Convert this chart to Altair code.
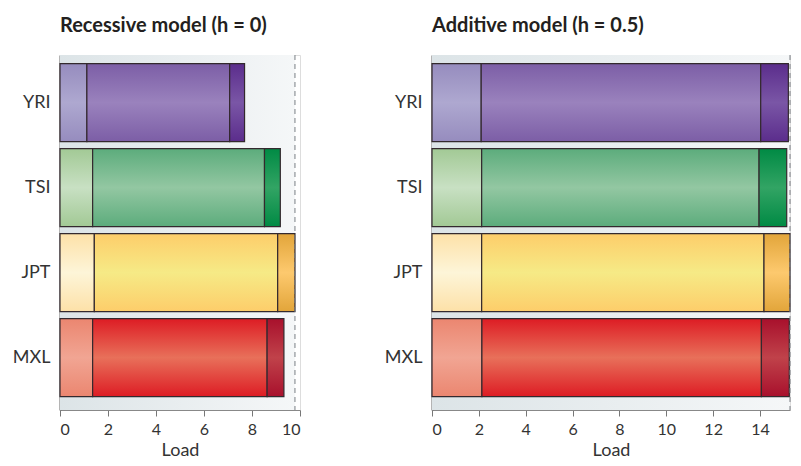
import altair as alt
import pandas as pd

# ---- data ----
populations = ["YRI", "TSI", "JPT", "MXL"]
segments = ["low", "mid", "high"]

# cumulative segment ends (Load), per population, in order low, mid, high
recessive_ends = {
    "YRI": [1.12, 7.07, 7.69],
    "TSI": [1.36, 8.52, 9.18],
    "JPT": [1.43, 9.07, 9.79],
    "MXL": [1.36, 8.63, 9.33],
}
additive_ends = {
    "YRI": [2.10, 14.03, 15.21],
    "TSI": [2.12, 13.96, 15.14],
    "JPT": [2.12, 14.17, 15.28],
    "MXL": [2.13, 14.06, 15.25],
}

recessive_ticks = [0, 2, 4, 6, 8, 10]
additive_ticks = [0, 2, 4, 6, 8, 10, 12, 14]

# (edge colour, centre colour) for each population / segment
palette = {
    "YRI": [("#968cbe", "#aea8d0"), ("#7c5ea6", "#9a82bd"), ("#5b2d8c", "#7a56a6")],
    "TSI": [("#a2c995", "#c8e0c3"), ("#5cac7c", "#93c7a2"), ("#008a44", "#32a464")],
    "JPT": [("#fde1a8", "#fdf5d8"), ("#fdcd6a", "#f6ea86"), ("#e2a53a", "#fdc96e")],
    "MXL": [("#eb8670", "#f1a593"), ("#dd1c24", "#e8705a"), ("#a8102c", "#c0424a")],
}

FONT = "Lato"
TEXT = "#333333"


def build_frame(ends):
    rows = []
    for p in populations:
        prev = 0.0
        for s, e in zip(segments, ends[p]):
            rows.append({"pop": p, "seg": s, "start": prev, "end": e})
            prev = e
    return pd.DataFrame(rows)


def vgrad(edge, centre):
    return {
        "gradient": "linear",
        "x1": 0, "y1": 0, "x2": 0, "y2": 1,
        "stops": [
            {"offset": 0, "color": edge},
            {"offset": 0.5, "color": centre},
            {"offset": 1, "color": edge},
        ],
    }


def panel(ends, title, xmax, ticks, width):
    df = build_frame(ends)
    total = pd.DataFrame({"start": [0.0], "end": [max(v[-1] for v in ends.values())]})

    xaxis = alt.Axis(
        values=ticks, title="Load", grid=False, tickSize=6, tickColor="#777777",
        domainColor="#888888", labelFontSize=16, labelColor=TEXT, labelPadding=5,
        titleFontSize=18, titleFontWeight="normal", titleColor=TEXT, titlePadding=4,
        labelFont=FONT, titleFont=FONT,
    )
    xscale = alt.Scale(domain=[0, xmax], nice=False, zero=True)
    yaxis = alt.Axis(
        title=None, ticks=False, domainColor="#6a6a6a", domainWidth=2,
        labelFontSize=18, labelColor=TEXT, labelPadding=10, labelFont=FONT,
    )
    yscale = alt.Scale(domain=populations, paddingInner=0.082, paddingOuter=0.129, align=0.39)

    bg = alt.Chart(total).mark_rect(
        fill={
            "gradient": "linear", "x1": 0, "y1": 0, "x2": 1, "y2": 0,
            "stops": [{"offset": 0, "color": "#dce4e7"}, {"offset": 1, "color": "#f5f7f8"}],
        }
    ).encode(
        x=alt.X("start:Q", scale=xscale, axis=xaxis),
        x2="end:Q",
    )

    layers = [bg]
    for p in populations:
        for i, s in enumerate(segments):
            edge, centre = palette[p][i]
            layers.append(
                alt.Chart(df)
                .transform_filter((alt.datum.pop == p) & (alt.datum.seg == s))
                .mark_bar(fill=vgrad(edge, centre), stroke="#33292e", strokeWidth=1.2)
                .encode(
                    x=alt.X("start:Q", scale=xscale, axis=xaxis),
                    x2="end:Q",
                    y=alt.Y("pop:N", sort=populations, scale=yscale, axis=yaxis),
                )
            )

    rule = alt.Chart(total).mark_rule(
        color="#7a7f84", strokeDash=[5, 4], strokeWidth=1
    ).encode(x=alt.X("end:Q", scale=xscale, axis=xaxis))
    layers.append(rule)

    return alt.layer(*layers).properties(
        width=width,
        height=355,
        title=alt.TitleParams(
            title, anchor="start", frame="group", fontSize=20, fontWeight="bold",
            color="#231f20", font=FONT, offset=19,
        ),
    )


left = panel(recessive_ends, "Recessive model (h = 0)", 10, recessive_ticks, 240)
right = panel(additive_ends, "Additive model (h = 0.5)", 15.28, additive_ticks, 358)

chart = (
    alt.hconcat(left, right, spacing=82)
    .properties(padding={"left": 3, "top": 7, "right": 0, "bottom": 0})
    .configure_view(stroke=None)
    .configure(font=FONT)
)

chart.save("out.html", embed_options={"renderer": "svg", "actions": False})
